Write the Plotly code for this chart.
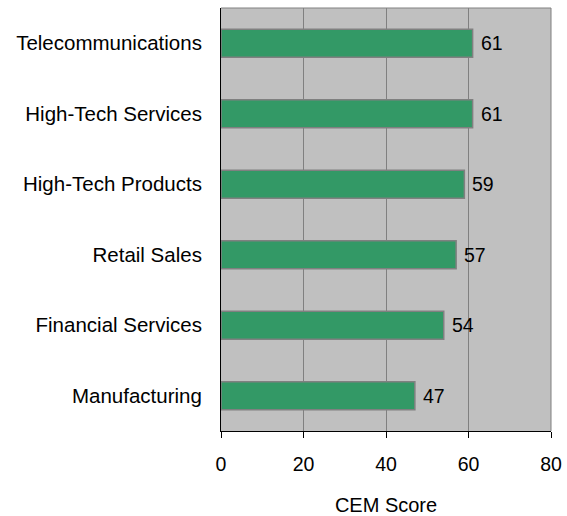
import plotly.graph_objects as go

categories = ["Manufacturing", "Financial Services", "Retail Sales",
              "High-Tech Products", "High-Tech Services", "Telecommunications"]
scores = [47, 54, 57, 59, 61, 61]
x_ticks = [0, 20, 40, 60, 80]

FONT = "Liberation Sans, Arial"

fig = go.Figure(go.Bar(
    y=categories, x=scores, orientation="h",
    width=0.4,
    marker=dict(color="#339966", line=dict(color="#808080", width=1.5)),
))

for c, v in zip(categories, scores):
    fig.add_annotation(x=v, y=c, text=str(v), showarrow=False, xanchor="left",
                       xshift=6, font=dict(family=FONT, size=19.5, color="black"))

fig.update_layout(
    width=567, height=516,
    margin=dict(l=221, r=16, t=8, b=85),
    paper_bgcolor="white", plot_bgcolor="#C0C0C0",
    font=dict(family=FONT, size=20, color="black"),
    showlegend=False,
)
fig.update_xaxes(
    range=[0, 80], tickvals=x_ticks, showgrid=True, gridcolor="#808080", gridwidth=1,
    zeroline=False, showline=True, linecolor="black", linewidth=1,
    ticks="outside", ticklen=6, tickcolor="black", ticklabelstandoff=10,
    automargin=False,
    title=dict(text="CEM Score", standoff=24, font=dict(size=20)),
    tickfont=dict(size=19.5),
)
fig.update_yaxes(
    showline=True, linecolor="black", linewidth=1, showgrid=False,
    ticks="", ticklabelstandoff=14, tickfont=dict(size=20.5), automargin=False,
)
fig.add_shape(type="line", xref="paper", yref="paper", x0=0, x1=1, y0=1, y1=1,
              line=dict(color="#808080", width=1))
fig.add_shape(type="line", xref="paper", yref="paper", x0=1, x1=1, y0=0, y1=1,
              line=dict(color="#808080", width=1))

fig.write_html(
    "out.html",
    config={"displayModeBar": False},
    post_script="document.body.style.margin='0';document.body.style.overflow='hidden';",
)
